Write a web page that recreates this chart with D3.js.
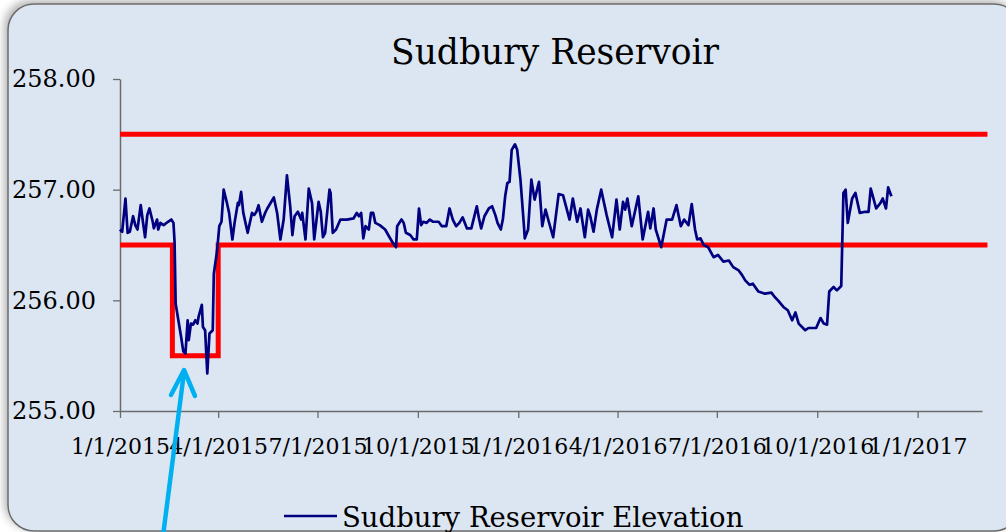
<!DOCTYPE html>
<html>
<head>
<meta charset="utf-8">
<script src="https://cdn.jsdelivr.net/npm/d3@7"></script>
<style>
  html, body { margin: 0; padding: 0; background: #fff; }
  svg { display: block; }
</style>
</head>
<body>
<svg id="chart" width="1006" height="532"></svg>
<script>
// daily elevation readings (ft)
const elevationDates = [
  "2015-01-01","2015-01-03","2015-01-06","2015-01-08","2015-01-10","2015-01-13","2015-01-15","2015-01-17",
  "2015-01-20","2015-01-22","2015-01-24","2015-01-26","2015-01-28","2015-01-31","2015-02-01","2015-02-04",
  "2015-02-05","2015-02-07","2015-02-10","2015-02-14","2015-02-17","2015-02-19","2015-02-20","2015-02-21",
  "2015-02-23","2015-02-26","2015-02-28","2015-03-02","2015-03-04","2015-03-05","2015-03-07","2015-03-09",
  "2015-03-11","2015-03-13","2015-03-14","2015-03-17","2015-03-18","2015-03-20","2015-03-22","2015-03-24",
  "2015-03-27","2015-03-28","2015-03-31","2015-04-02","2015-04-04","2015-04-06","2015-04-09","2015-04-11",
  "2015-04-14","2015-04-16","2015-04-19","2015-04-20","2015-04-22","2015-04-24","2015-04-28","2015-05-02",
  "2015-05-04","2015-05-06","2015-05-08","2015-05-11","2015-05-14","2015-05-16","2015-05-19","2015-05-22",
  "2015-05-25","2015-05-28","2015-05-31","2015-06-03","2015-06-06","2015-06-08","2015-06-10","2015-06-13",
  "2015-06-16","2015-06-17","2015-06-20","2015-06-23","2015-06-26","2015-06-28","2015-07-02","2015-07-04",
  "2015-07-06","2015-07-08","2015-07-12","2015-07-13","2015-07-15","2015-07-18","2015-07-22","2015-07-28",
  "2015-08-03","2015-08-06","2015-08-08","2015-08-10","2015-08-12","2015-08-14","2015-08-17","2015-08-19",
  "2015-08-21","2015-08-23","2015-08-27","2015-09-01","2015-09-05","2015-09-08","2015-09-11","2015-09-12",
  "2015-09-16","2015-09-18","2015-09-20","2015-09-24","2015-09-27","2015-09-30","2015-10-02","2015-10-04",
  "2015-10-06","2015-10-09","2015-10-12","2015-10-15","2015-10-20","2015-10-23","2015-10-27","2015-10-30",
  "2015-11-02","2015-11-05","2015-11-08","2015-11-11","2015-11-15","2015-11-19","2015-11-22","2015-11-24",
  "2015-11-26","2015-11-28","2015-12-01","2015-12-05","2015-12-08","2015-12-11","2015-12-13","2015-12-16",
  "2015-12-18","2015-12-20","2015-12-22","2015-12-24","2015-12-26","2015-12-29","2015-12-31","2016-01-03",
  "2016-01-06","2016-01-07","2016-01-10","2016-01-13","2016-01-16","2016-01-20","2016-01-23","2016-01-26",
  "2016-01-29","2016-02-02","2016-02-07","2016-02-11","2016-02-17","2016-02-20","2016-02-24","2016-02-27",
  "2016-03-02","2016-03-05","2016-03-07","2016-03-10","2016-03-13","2016-03-17","2016-03-22","2016-03-27",
  "2016-03-31","2016-04-03","2016-04-06","2016-04-08","2016-04-10","2016-04-14","2016-04-20","2016-04-24",
  "2016-04-29","2016-05-01","2016-05-04","2016-05-06","2016-05-11","2016-05-16","2016-05-21","2016-05-25",
  "2016-05-29","2016-06-01","2016-06-05","2016-06-08","2016-06-11","2016-06-13","2016-06-16","2016-06-19",
  "2016-06-23","2016-06-28","2016-07-02","2016-07-07","2016-07-12","2016-07-16","2016-07-21","2016-07-24",
  "2016-07-27","2016-07-31","2016-08-03","2016-08-08","2016-08-14","2016-08-20","2016-08-23","2016-08-26",
  "2016-08-31","2016-09-04","2016-09-08","2016-09-11","2016-09-14","2016-09-20","2016-09-23","2016-09-30",
  "2016-10-04","2016-10-07","2016-10-10","2016-10-12","2016-10-16","2016-10-19","2016-10-23","2016-10-25",
  "2016-10-27","2016-10-29","2016-11-02","2016-11-05","2016-11-09","2016-11-14","2016-11-17","2016-11-19",
  "2016-11-21","2016-11-24","2016-11-28","2016-11-30","2016-12-03","2016-12-05","2016-12-08"
];
const elevationValues = [
  256.64,256.62,256.92,256.61,256.62,256.76,256.68,256.64,
  256.86,256.71,256.57,256.77,256.83,256.71,256.65,256.73,
  256.64,256.70,256.68,256.71,256.73,256.70,256.53,255.97,
  255.85,255.67,255.54,255.52,255.82,255.64,255.79,255.78,
  255.82,255.79,255.85,255.96,255.76,255.73,255.34,255.70,
  255.73,256.24,256.45,256.67,256.71,257.00,256.88,256.79,
  256.55,256.70,256.88,256.86,256.98,256.79,256.61,256.79,
  256.77,256.80,256.86,256.71,256.79,256.83,256.88,256.93,
  256.79,256.55,256.73,257.13,256.85,256.59,256.76,256.80,
  256.73,256.79,256.55,257.01,256.88,256.55,256.89,256.80,
  256.57,256.61,257.00,256.97,256.61,256.64,256.73,256.73,
  256.74,256.79,256.76,256.79,256.56,256.67,256.64,256.79,
  256.79,256.70,256.68,256.64,256.57,256.52,256.48,256.67,
  256.73,256.70,256.61,256.59,256.55,256.55,256.83,256.68,
  256.71,256.70,256.73,256.71,256.71,256.67,256.67,256.83,
  256.73,256.67,256.70,256.75,256.65,256.65,256.77,256.85,
  256.74,256.65,256.76,256.83,256.85,256.77,256.70,256.64,
  256.74,256.94,257.06,257.07,257.36,257.41,257.36,257.09,
  256.70,256.56,256.64,257.09,256.91,257.07,256.67,256.82,
  256.71,256.57,256.96,256.95,256.73,256.92,256.71,256.83,
  256.57,256.82,256.76,256.62,256.82,257.00,256.77,256.57,
  256.91,256.64,256.89,256.82,256.92,256.67,256.94,256.55,
  256.80,256.65,256.83,256.64,256.48,256.73,256.73,256.86,
  256.67,256.73,256.68,256.87,256.64,256.55,256.56,256.50,
  256.48,256.39,256.41,256.35,256.36,256.30,256.27,256.23,
  256.18,256.14,256.15,256.08,256.06,256.07,256.03,256.00,
  255.94,255.91,255.82,255.89,255.79,255.73,255.75,255.75,
  255.84,255.79,255.78,256.08,256.12,256.09,256.13,256.97,
  257.00,256.70,256.92,256.97,256.79,256.80,256.80,257.01,
  256.94,256.83,256.88,256.92,256.83,257.02,256.94
];

// operating band (red lines)
const upperDates = ["2015-01-01", "2017-03-06"];
const upperValues = [257.5, 257.5];
const lowerDates = ["2015-01-01", "2015-02-18", "2015-02-18", "2015-04-01", "2015-04-01", "2017-03-06"];
const lowerValues = [256.5, 256.5, 255.5, 255.5, 256.5, 256.5];

const xTickDates = ["2015-01-01","2015-04-01","2015-07-01","2015-10-01","2016-01-01",
                    "2016-04-01","2016-07-01","2016-10-01","2017-01-01"];
const yTickValues = [255, 256, 257, 258];

const parse = d3.timeParse("%Y-%m-%d");
const toPoints = (ds, vs) => ds.map((d, i) => ({ date: parse(d), value: vs[i] }));

const elevation = toPoints(elevationDates, elevationValues);
const upper = toPoints(upperDates, upperValues);
const lower = toPoints(lowerDates, lowerValues);

const svg = d3.select("#chart");
const font = "'DejaVu Serif', Georgia, serif";

// frame with soft shadow
const defs = svg.append("defs");
const shadow = defs.append("filter").attr("id", "shadow")
  .attr("x", "-5%").attr("y", "-5%").attr("width", "110%").attr("height", "110%");
shadow.append("feDropShadow")
  .attr("dx", -3).attr("dy", -3).attr("stdDeviation", 4)
  .attr("flood-color", "#000").attr("flood-opacity", 0.3);

svg.append("rect")
  .attr("x", 8).attr("y", 4)
  .attr("width", 1012).attr("height", 527)
  .attr("rx", 26)
  .attr("fill", "#dce6f2")
  .attr("stroke", "#6b6b6b")
  .attr("stroke-width", 1.5)
  .attr("filter", "url(#shadow)");

const x = d3.scaleTime()
  .domain([parse("2015-01-01"), parse("2017-03-01")])
  .range([120, 982]);
const y = d3.scaleLinear().domain([255, 258]).range([411, 79]);

// title
svg.append("text")
  .attr("x", 555).attr("y", 64)
  .attr("text-anchor", "middle")
  .attr("font-family", font)
  .attr("font-size", 34.5)
  .attr("fill", "#000")
  .text("Sudbury Reservoir");

// axes
const fmt = d3.timeFormat("%-m/%-d/%Y");
const xAxis = svg.append("g")
  .attr("transform", `translate(0,${y(255)})`)
  .call(d3.axisBottom(x)
    .tickValues(xTickDates.map(parse))
    .tickFormat(fmt)
    .tickSize(7).tickSizeOuter(0).tickPadding(20));

const yAxis = svg.append("g")
  .attr("transform", `translate(${x.range()[0]},0)`)
  .call(d3.axisLeft(y)
    .tickValues(yTickValues)
    .tickFormat(d3.format(".2f"))
    .tickSize(7).tickSizeOuter(0).tickPadding(17));

[xAxis, yAxis].forEach(ax => {
  ax.select(".domain").attr("stroke", "#6b6b6b").attr("stroke-width", 1.5);
  ax.selectAll(".tick line").attr("stroke", "#6b6b6b").attr("stroke-width", 1.3);
  ax.selectAll(".tick text")
    .attr("font-family", font)
    .attr("fill", "#000");
});
xAxis.selectAll(".tick text").attr("font-size", 22);
yAxis.selectAll(".tick text").attr("font-size", 24);

// series
const line = d3.line().x(d => x(d.date)).y(d => y(d.value));

svg.append("path").datum(upper)
  .attr("d", line).attr("fill", "none")
  .attr("stroke", "#ff0000").attr("stroke-width", 5);
svg.append("path").datum(lower)
  .attr("d", line).attr("fill", "none")
  .attr("stroke", "#ff0000").attr("stroke-width", 5);

svg.append("path").datum(elevation)
  .attr("d", line).attr("fill", "none")
  .attr("stroke", "#000080").attr("stroke-width", 2.7)
  .attr("stroke-linejoin", "round");

// legend
svg.append("line")
  .attr("x1", 284).attr("x2", 337).attr("y1", 516).attr("y2", 516)
  .attr("stroke", "#000080").attr("stroke-width", 2.5);
svg.append("text")
  .attr("x", 342).attr("y", 527)
  .attr("font-family", font)
  .attr("font-size", 27.5)
  .attr("fill", "#000")
  .text("Sudbury Reservoir Elevation");

// annotation arrow pointing at the drawdown
svg.append("line")
  .attr("x1", 163).attr("y1", 536).attr("x2", 184).attr("y2", 372)
  .attr("stroke", "#00b0f0").attr("stroke-width", 4.5).attr("stroke-linecap", "round");
svg.append("polyline")
  .attr("points", "171,395 184,370 195,396")
  .attr("fill", "none")
  .attr("stroke", "#00b0f0").attr("stroke-width", 4.5)
  .attr("stroke-linecap", "round").attr("stroke-linejoin", "round");
</script>
</body>
</html>
